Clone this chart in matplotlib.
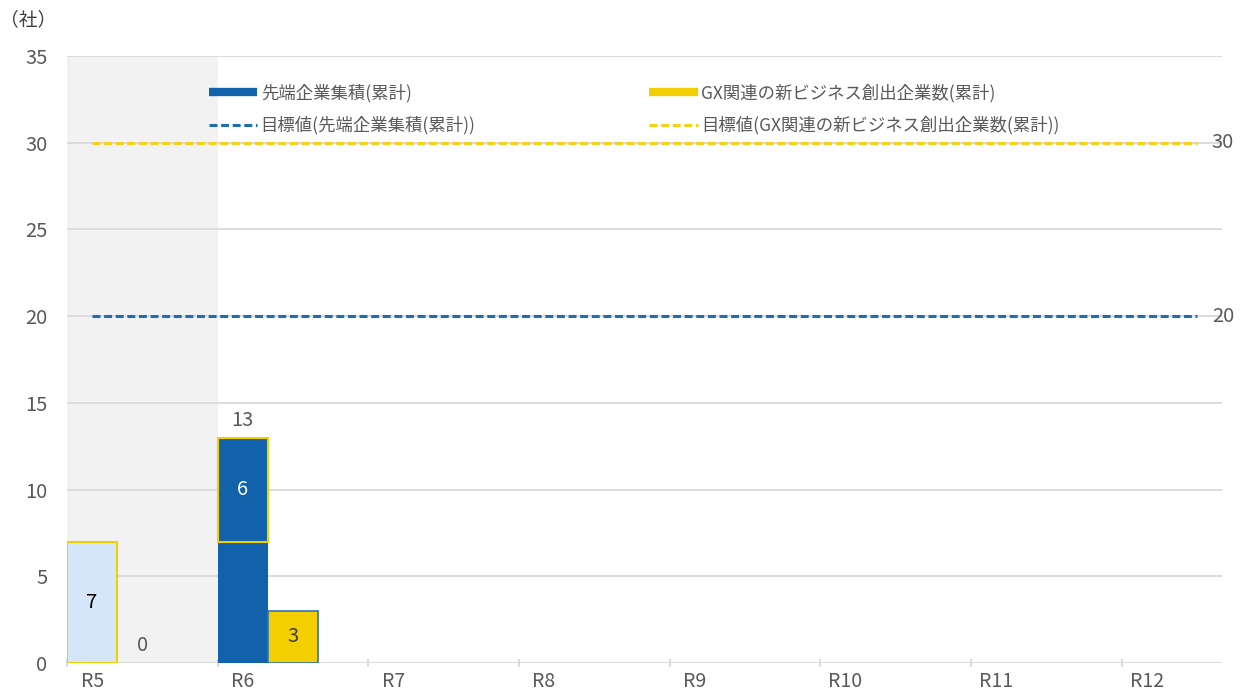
import matplotlib
matplotlib.use("Agg")
import matplotlib.pyplot as plt
from matplotlib.lines import Line2D

plt.rcParams['font.family'] = ['Noto Sans CJK JP', 'DejaVu Sans']

categories = ['R5', 'R6', 'R7', 'R8', 'R9', 'R10', 'R11', 'R12']
advanced_base = [7, 7]          # 先端企業集積 (R5 actual, R6 carried)
advanced_add = [0, 6]           # 先端企業集積 increase
advanced_total = [None, 13]
gx_values = [0, 3]              # GX関連の新ビジネス創出企業数
target_advanced = 20
target_gx = 30
y_ticks = [0, 5, 10, 15, 20, 25, 30, 35]

DARK_BLUE = '#1262ab'
LIGHT_BLUE = '#d5e6fb'
YELLOW = '#f3cf00'
GRID = '#d9d9d9'
TXT = '#595959'
NUM_FS = 14.5

fig = plt.figure(figsize=(12.45, 6.93), dpi=100)
ax = fig.add_axes([0.0538, 0.0433, 0.9277, 0.8759])

n = len(categories)
w = 1 / 3
ax.set_xlim(0, n - 1 + 2 / 3)
ax.set_ylim(0, 35)

ax.axvspan(0, 1, color='#f2f2f2', zorder=0, lw=0)

for y in y_ticks:
    ax.axhline(y, color=GRID, lw=1.3, zorder=0.5)

# bars
for i in range(len(advanced_base)):
    x1 = i
    if i == 0:
        ax.bar(x1, advanced_base[i], width=w, align='edge', color=LIGHT_BLUE,
               edgecolor=YELLOW, linewidth=1.5, zorder=2)
        ax.text(x1 + w / 2, advanced_base[i] / 2, str(advanced_base[i]),
                ha='center', va='center', fontsize=NUM_FS, color='black', zorder=5)
    else:
        ax.bar(x1, advanced_base[i], width=w, align='edge', color=DARK_BLUE,
               linewidth=0, zorder=2)
        ax.bar(x1, advanced_add[i], bottom=advanced_base[i], width=w, align='edge',
               color=DARK_BLUE, edgecolor=YELLOW, linewidth=1.5, zorder=3)
        ax.text(x1 + w / 2, advanced_base[i] + advanced_add[i] / 2, str(advanced_add[i]),
                ha='center', va='center', fontsize=NUM_FS, color='white', zorder=5)
    if advanced_total[i] is not None:
        ax.text(x1 + w / 2, advanced_total[i] + 1.0, str(advanced_total[i]),
                ha='center', va='center', fontsize=NUM_FS, color=TXT, zorder=5)
    # GX bars
    x2 = i + w
    if gx_values[i] > 0:
        ax.bar(x2, gx_values[i], width=w, align='edge', color=YELLOW,
               edgecolor='#2e75b6', linewidth=1.2, zorder=2)
        ax.text(x2 + w / 2, gx_values[i] / 2, str(gx_values[i]),
                ha='center', va='center', fontsize=NUM_FS, color='#404040', zorder=5)
    else:
        ax.text(x2 + w / 2, 1.0, str(gx_values[i]),
                ha='center', va='center', fontsize=NUM_FS, color=TXT, zorder=5)

# target lines
x_start = w / 2
x_end = n - 1 + w + w / 2
ax.plot([x_start, x_end], [target_gx, target_gx], color='#f7d117', lw=2.2,
        dashes=(2.6, 1.2), zorder=4)
ax.plot([x_start, x_end], [target_advanced, target_advanced], color='#1f6db5', lw=2.2,
        dashes=(2.6, 1.2), zorder=4)
ax.text(7.6, target_gx, str(target_gx), ha='left', va='center', fontsize=NUM_FS, color=TXT)
ax.text(7.6, target_advanced, str(target_advanced), ha='left', va='center', fontsize=NUM_FS, color=TXT)

# axes styling
for s in ax.spines.values():
    s.set_visible(False)
ax.set_yticks(y_ticks)
ax.set_yticklabels([str(v) for v in y_ticks], fontsize=NUM_FS, color=TXT)
ax.tick_params(axis='y', length=0, pad=14)

ax.set_xticks(range(n))
ax.set_xticklabels([''] * n)
ax.tick_params(axis='x', which='major', length=6, direction='inout', color=GRID, width=1.3)
ax.set_xticks([i + w / 2 for i in range(n)], minor=True)
ax.set_xticklabels(categories, minor=True, fontsize=14, color=TXT)
ax.tick_params(axis='x', which='minor', length=0, pad=6)

fig.text(0.0, 0.972, '（社）', fontsize=13.5, color='#404040', ha='left', va='center')

handles = [
    Line2D([0], [0], color=DARK_BLUE, lw=6, solid_capstyle='butt'),
    Line2D([0], [0], color='#1f6db5', lw=2.2, dashes=(2.6, 1.2)),
    Line2D([0], [0], color=YELLOW, lw=6, solid_capstyle='butt'),
    Line2D([0], [0], color='#f7d117', lw=2.2, dashes=(2.6, 1.2)),
]
labels = ['先端企業集積(累計)', '目標値(先端企業集積(累計))',
          'GX関連の新ビジネス創出企業数(累計)', '目標値(GX関連の新ビジネス創出企業数(累計))']
leg = fig.legend(handles, labels, ncol=2, loc='upper left',
                 bbox_to_anchor=(0.155, 0.902), frameon=False, fontsize=12.5,
                 handlelength=2.8, handletextpad=0.2, columnspacing=10.0,
                 labelspacing=0.8, labelcolor=TXT)

fig.savefig('out.png', dpi=100)
